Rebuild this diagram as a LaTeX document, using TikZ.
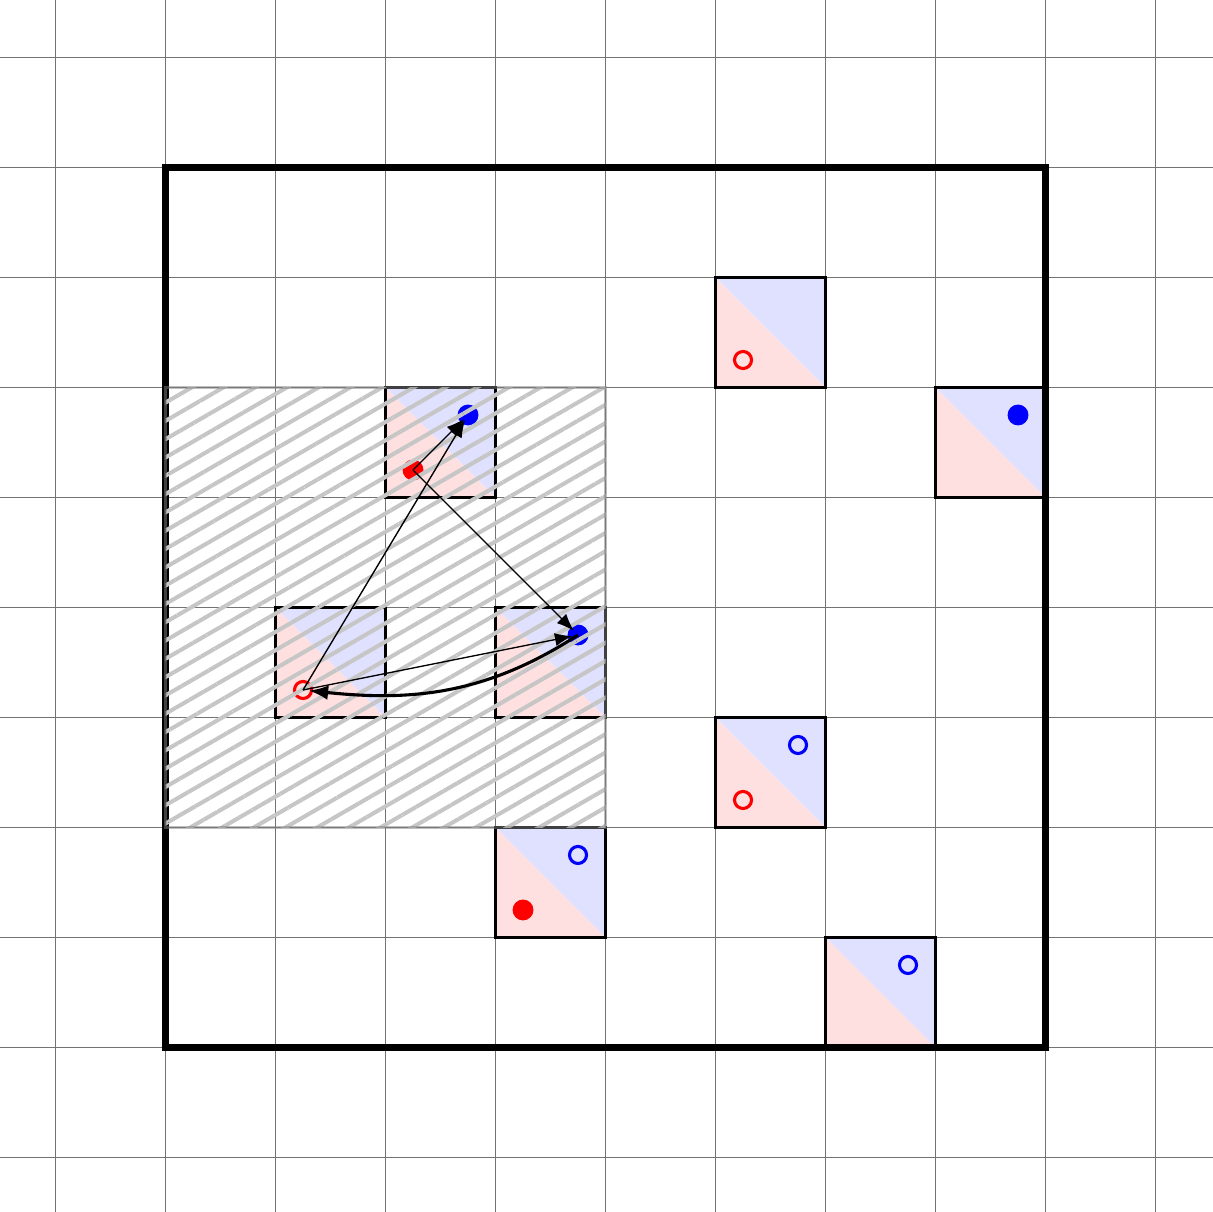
\documentclass[tikz,border=0pt]{standalone}
\usetikzlibrary{patterns.meta,arrows.meta}
\begin{document}
\begin{tikzpicture}[x=1cm,y=1cm,
  gridline/.style={draw=black!55,line width=0.35pt},
  cellbox/.style={draw=black,line width=0.8pt},
  outerbox/.style={draw=black,line width=1.6pt},
  lowtri/.style={fill=red!12},
  uptri/.style={fill=blue!12},
  rfull/.style={circle,fill=red,inner sep=0pt,minimum size=0.19cm},
  bfull/.style={circle,fill=blue,inner sep=0pt,minimum size=0.19cm},
  rring/.style={circle,draw=red,line width=0.8pt,inner sep=0pt,minimum size=0.155cm},
  bring/.style={circle,draw=blue,line width=0.8pt,inner sep=0pt,minimum size=0.155cm},
  hatchzone/.style={pattern={Lines[angle=30,distance=4.1pt,line width=1.05pt]},pattern color=gray!45},
  hatchborder/.style={draw=gray,draw opacity=0.5,line width=0.8pt},
  thinarrow/.style={-{Latex[length=4.5pt,width=3.4pt]},line width=0.35pt,shorten >=1.5pt},
  curvearrow/.style={-{Latex[length=5pt,width=3.8pt]},line width=0.8pt,shorten >=1.5pt}
]
\useasboundingbox (-1.505,-1.495) rectangle (9.523,9.523);
% grid
\draw[gridline] (-1.505,-1.495) grid (9.523,9.523);
% cells
\foreach \cx/\cy in {5/6,7/5,2/5,1/3,3/3,5/2,3/1,6/0}{
  \path[lowtri] (\cx,\cy) -- (\cx+1,\cy) -- (\cx,\cy+1) -- cycle;
  \path[uptri] (\cx+1,\cy+1) -- (\cx+1,\cy) -- (\cx,\cy+1) -- cycle;
  \draw[cellbox] (\cx,\cy) rectangle (\cx+1,\cy+1);
}
% outer square
\draw[outerbox] (0,0) rectangle (8,8);
% markers
\node[rring] (r56) at (5.25,6.25) {};
\node[bfull] (b75) at (7.75,5.75) {};
\node[rfull] (r25) at (2.25,5.25) {};
\node[bfull] (b25) at (2.75,5.75) {};
\node[rring] (r13) at (1.25,3.25) {};
\node[bfull] (b33) at (3.75,3.75) {};
\node[rring] (r52) at (5.25,2.25) {};
\node[bring] (b52) at (5.75,2.75) {};
\node[rfull] (r31) at (3.25,1.25) {};
\node[bring] (b31) at (3.75,1.75) {};
\node[bring] (b60) at (6.75,0.75) {};
% hatched region
\path[hatchzone] (0,2) rectangle (4,6);
\draw[hatchborder] (0,2) rectangle (4,6);
% arrows
\draw[thinarrow] (r25.center) -- (b25.center);
\draw[thinarrow] (r25.center) -- (b33.center);
\draw[thinarrow] (r13.center) -- (b25.center);
\draw[thinarrow] (r13.center) -- (b33.center);
\draw[curvearrow] (b33.center) to[out=213,in=-6] (r13.center);
\end{tikzpicture}
\end{document}
